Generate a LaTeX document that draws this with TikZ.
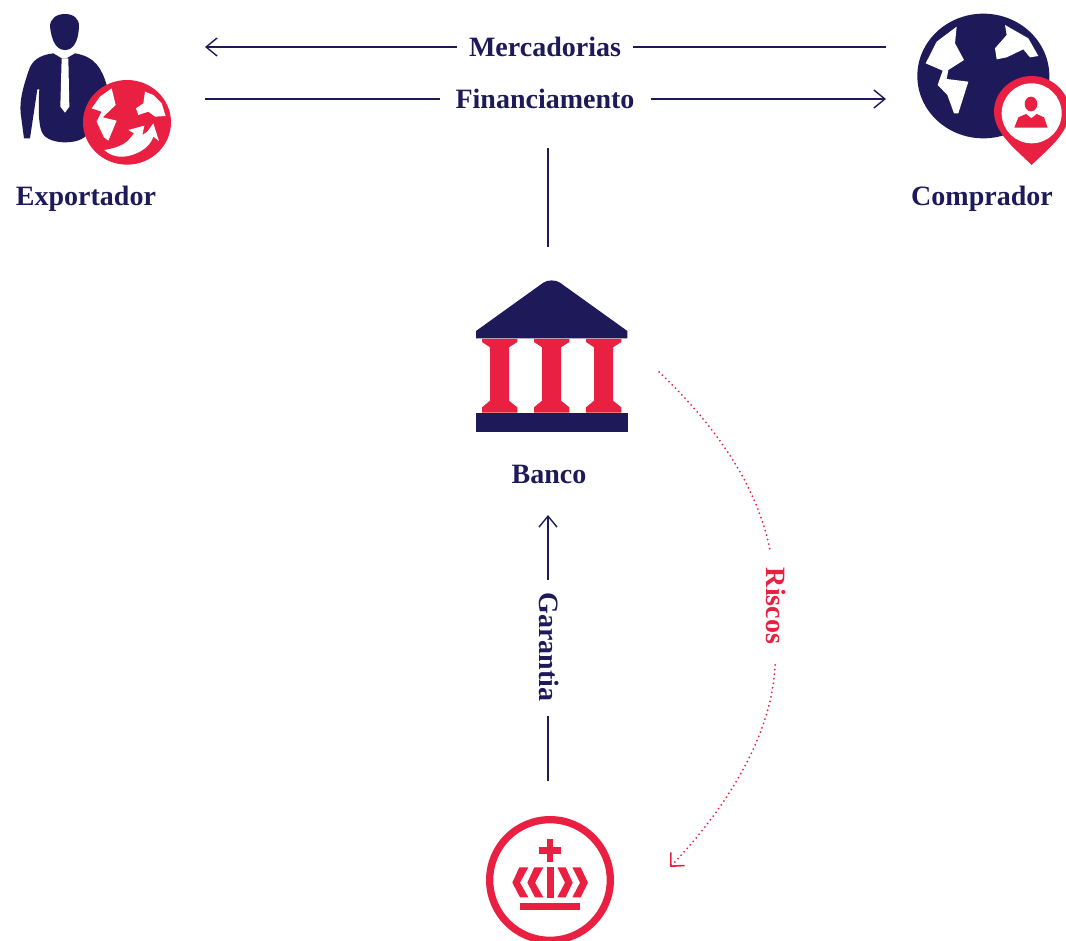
\documentclass[tikz,border=0pt]{standalone}
\usepackage{fontspec}
\setmainfont{Liberation Serif}
\usetikzlibrary{arrows.meta}
\definecolor{navy}{HTML}{1E1A5A}
\definecolor{crimson}{HTML}{E92042}
\tikzset{
  lbl/.style={font=\fontsize{28}{32}\selectfont\bfseries,text=navy,inner sep=0pt,anchor=base},
  lblred/.style={lbl,text=crimson},
  flow/.style={draw=navy,line width=1.4pt,-{Straight Barb[length=11pt,width=18pt,line width=1.4pt]}},
  plainflow/.style={draw=navy,line width=1.4pt},
  riskflow/.style={draw=crimson,line width=2pt,line cap=round,dash pattern=on 0pt off 4.6pt},
  riskarrow/.style={riskflow,-{Straight Barb[length=10pt,width=19pt,line width=1.6pt,line cap=butt]}},
}
\begin{document}
\begin{tikzpicture}[x=1pt,y=-1pt]
\useasboundingbox (0,0) rectangle (1066,941);

%LABELS
\node[lbl](v1) at (86,205.5) {Exportador};
\node[lbl](v2) at (982,205.5) {Comprador};
\node[lbl](v3) at (549,483) {Banco};
\node[lbl](v4) at (545,57) {Mercadorias};
\node[lbl](v5) at (545,109) {Financiamento};
\node[lbl,rotate=-90](v6) at (539,647) {Garantia};
\node[lblred,rotate=-90](v7) at (766,606) {Riscos};

%LINE ENDS
\coordinate (a1) at (205,47);
\coordinate (a2) at (886,47);
\coordinate (a3) at (457,47);
\coordinate (a4) at (633,47);
\coordinate (b1) at (205,99);
\coordinate (b2) at (886,99);
\coordinate (b3) at (440,99);
\coordinate (b4) at (651,99);
\coordinate (c1) at (548,148);
\coordinate (c2) at (548,247);
\coordinate (d1) at (548,515);
\coordinate (d2) at (548,580);
\coordinate (d3) at (548,716);
\coordinate (d4) at (548,781);
\coordinate (e1) at (659,372);
\coordinate (e2) at (770,550);
\coordinate (e3) at (775,665);
\coordinate (e4) at (670,867);

\draw[flow] (a3) -- (a1);
\draw[plainflow] (a2) -- (a4);
\draw[plainflow] (b1) -- (b3);
\draw[flow] (b4) -- (b2);
\draw[plainflow] (c1) -- (c2);
\draw[flow] (d2) -- (d1);
\draw[plainflow] (d4) -- (d3);
\draw[riskflow] (e1) .. controls (715,425) and (757,485) .. (e2);
\draw[riskarrow] (e3) .. controls (772,740) and (720,815) .. (e4);

%EXPORTADOR
\begin{scope}[scale=1/3]
\fill[navy] (150,80) .. controls (150,55) and (170,42) .. (195,42) .. controls (220,42) and (238,55) .. (237,80)
  .. controls (235,125) and (220,150) .. (195,150) .. controls (170,150) and (155,125) .. (150,80) -- cycle;
\fill[navy] (160,160) .. controls (120,165) and (95,180) .. (85,215) .. controls (70,260) and (58,300) .. (62,340)
  -- (72,415) -- (90,415) -- (112,268) -- (118,268) .. controls (115,320) and (115,370) .. (125,395)
  .. controls (135,420) and (170,427) .. (195,427) .. controls (225,427) and (250,420) .. (265,400)
  -- (320,255) .. controls (305,205) and (285,170) .. (225,160) -- (200,175) -- (185,175) -- cycle;
\fill[white] (185,175) -- (205,175) -- (208,320) -- (195,338) -- (181,320) -- cycle;
\fill[crimson] (381,367) ellipse (132 and 127);
\fill[white] (335,265) -- (347,315) -- (308,352) -- (350,362) -- (325,422) -- (312,412) -- (290,365) -- (305,335) -- (275,325) -- (300,290) -- cycle;
\fill[white] (435,275) -- (430,310) -- (408,325) -- (415,345) -- (445,335) -- (465,350) -- (497,348) -- (485,310) -- (460,285) -- cycle;
\fill[white] (313,450) .. controls (345,445) and (375,435) .. (390,415) -- (402,400) -- (385,390) -- (433,377) -- (427,405) -- (442,395) -- (460,370) -- (477,423) -- (460,410)
  .. controls (450,445) and (405,468) .. (370,470) .. controls (345,472) and (325,462) .. (313,450) -- cycle;
\end{scope}

%COMPRADOR
\begin{scope}[shift={(890,0)},scale=1/3]
\fill[navy] (280,228) ellipse (198 and 187);
\fill[white] (200,80) -- (195,130) -- (222,180) -- (175,210) -- (170,237) -- (235,245) -- (205,340) -- (192,340) -- (172,285) -- (143,255) -- (158,212) -- (107,190) -- (140,125) -- cycle;
\fill[white] (345,75) -- (350,105) -- (315,145) -- (320,178) -- (350,172) -- (400,148) -- (420,172) -- (445,168) -- (415,115) -- cycle;
\fill[crimson] (425,495) .. controls (380,450) and (312,400) .. (312,335) .. controls (312,275) and (365,228) .. (425,228)
  .. controls (485,228) and (538,275) .. (538,335) .. controls (538,400) and (470,450) .. (425,495) -- cycle;
\fill[white] (425,340) circle (90);
\fill[crimson] (423,312) ellipse (19 and 22);
\fill[crimson] (373,383) -- (385,352) -- (408,342) -- (424,355) -- (440,342) -- (462,352) -- (473,383) -- cycle;
\end{scope}

%BANCO
\begin{scope}[shift={(460,270)},scale=1/3]
\fill[navy] (48,205) -- (48,183) -- (250,38) .. controls (262,29) and (288,29) .. (300,38) -- (502,183) -- (502,205) -- cycle;
\fill[crimson] (66,207) -- (172,207) -- (172,216) -- (147,232) -- (147,392) -- (172,412) -- (172,428) -- (66,428) -- (66,412) -- (90,392) -- (90,232) -- (66,216) -- cycle;
\fill[crimson] (222,207) -- (328,207) -- (328,216) -- (303,232) -- (303,392) -- (328,412) -- (328,428) -- (222,428) -- (222,412) -- (246,392) -- (246,232) -- (222,216) -- cycle;
\fill[crimson] (378,207) -- (484,207) -- (484,216) -- (459,232) -- (459,392) -- (484,412) -- (484,428) -- (378,428) -- (378,412) -- (402,392) -- (402,232) -- (378,216) -- cycle;
\fill[navy] (48,428) rectangle (504,486);
\end{scope}

%COROA
\begin{scope}[shift={(470,800)},scale=1/3]
\draw[crimson,line width=7.3pt] (240,240) circle (181);
\fill[crimson] (230,118) rectangle (250,185);
\fill[crimson] (207,142) rectangle (274,162);
\fill[crimson] (230,200) rectangle (252,293);
\fill[crimson] (148,202) -- (175,202) -- (150,248) -- (175,292) -- (150,292) -- (127,248) -- cycle;
\fill[crimson] (193,202) -- (220,202) -- (195,248) -- (220,292) -- (195,292) -- (172,248) -- cycle;
\fill[crimson] (262,202) -- (287,202) -- (308,248) -- (287,292) -- (262,292) -- (285,248) -- cycle;
\fill[crimson] (307,202) -- (332,202) -- (354,248) -- (332,292) -- (307,292) -- (330,248) -- cycle;
\fill[crimson] (150,309) rectangle (330,329);
\end{scope}

\end{tikzpicture}
\end{document}
